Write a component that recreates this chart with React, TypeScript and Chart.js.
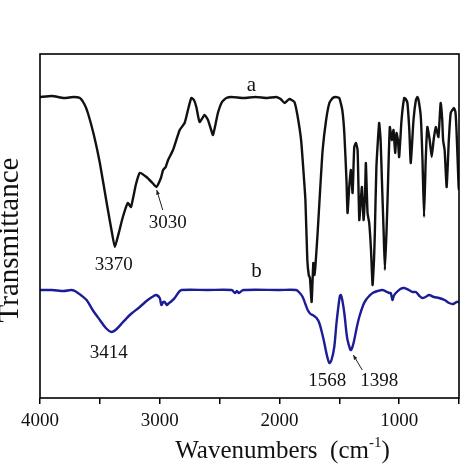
import React, { useEffect, useRef } from "react";
import { Chart, registerables } from "chart.js";

Chart.register(...registerables);

// Wavenumbers (cm-1) and relative transmittance for spectrum a (black)
const waveA = [4000,3900,3800,3720,3667,3630,3600,3550,3500,3440,3400,3375,3340,3308,3267,3240,3200,3167,3111,3060,3028,2990,2972,2950,2930,2889,2833,2792,2760,2736,2714,2694,2667,2625,2597,2570,2555,2535,2514,2480,2444,2400,2300,2200,2100,2028,1990,1958,1917,1875,1850,1819,1800,1783,1767,1755,1745,1731,1717,1708,1700,1681,1660,1639,1610,1583,1555,1528,1500,1475,1458,1440,1431,1417,1403,1389,1375,1361,1347,1333,1320,1311,1297,1285,1278,1264,1250,1235,1222,1210,1203,1190,1167,1155,1144,1130,1119,1105,1097,1078,1061,1047,1033,1022,1010,1000,980,958,945,931,915,903,880,860,847,835,819,805,792,778,764,745,728,712,694,672,660,653,640,633,620,603,585,569,542,530,522,510,503,500];
const transA = [301,302,300,301,300,294,285,263,235,193,166,151,166,181,195,191,213,225,221,215,211,220,228,231,238,248,268,275,290,300,298,291,276,283,278,268,263,273,285,296,300,301,300,301,300,301,299,295,299,296,283,258,228,198,138,123,120,96,135,123,131,165,208,248,278,295,300,301,300,288,265,218,185,211,228,205,251,255,248,178,198,211,178,203,235,185,175,148,113,138,165,231,275,258,218,168,128,168,198,271,258,268,245,265,258,241,278,300,299,295,268,235,278,298,301,296,281,238,181,238,271,258,241,258,271,261,283,295,278,258,248,211,258,285,290,286,271,233,211,208];

// Spectrum b (blue)
const waveB = [4000,3900,3800,3740,3708,3660,3611,3560,3500,3450,3403,3360,3306,3240,3167,3100,3050,3028,3000,2986,2970,2958,2940,2931,2900,2875,2840,2819,2600,2400,2370,2355,2340,2300,2000,1861,1830,1806,1780,1764,1740,1722,1690,1667,1640,1625,1600,1583,1565,1542,1525,1514,1495,1486,1475,1458,1440,1431,1410,1403,1390,1375,1355,1333,1300,1278,1250,1222,1180,1139,1100,1083,1070,1056,1045,1028,990,958,920,889,860,830,806,780,750,710,667,620,583,550,520,500];
const transB = [108,108,107,108,107,103,98,88,78,70,66,69,76,84,91,98,102,103,100,93,96,96,93,94,97,100,106,108,108,108,105,107,105,108,108,108,105,101,93,88,84,83,80,75,63,55,41,35,38,51,73,85,102,103,98,85,65,58,49,48,51,58,70,81,93,98,102,105,107,108,106,105,105,98,102,105,109,110,108,106,106,102,100,101,103,101,100,98,95,94,96,96];

// Peak labels (text, wavenumber, transmittance of the label baseline)
const labelTexts = ["a", "b", "3370", "3030", "3414", "1568", "1398"];
const labelWave = [2233, 2192, 3383, 2933, 3425, 1600, 1167];
const labelTrans = [307, 121, 128, 170, 40, 12, 12];

// Arrows (from label to peak) in data units
const arrowFromWave = [2975, 1308];
const arrowFromTrans = [188, 28];
const arrowToWave = [3025, 1383];
const arrowToTrans = [208, 43];

const xTicks = [4000, 3000, 2000, 1000];
const yTitle = "Transmittance";

const SERIF = "'Liberation Serif', 'Times New Roman', serif";

const framePlugin = {
  id: "frame",
  afterDraw(chart: any) {
    const { ctx, chartArea, scales } = chart;
    const xs = scales.x;
    const ys = scales.y;
    ctx.save();
    ctx.strokeStyle = "#000";
    ctx.lineWidth = 1.6;
    ctx.strokeRect(chartArea.left, chartArea.top, chartArea.right - chartArea.left, chartArea.bottom - chartArea.top);

    // peak labels
    ctx.fillStyle = "#111";
    ctx.textAlign = "center";
    ctx.textBaseline = "alphabetic";
    labelTexts.forEach((t, i) => {
      const big = t.length === 1;
      ctx.font = `${big ? 21 : 19}px ${SERIF}`;
      ctx.fillText(t, xs.getPixelForValue(labelWave[i]), ys.getPixelForValue(labelTrans[i]));
    });

    // arrows
    ctx.strokeStyle = "#222";
    ctx.fillStyle = "#222";
    ctx.lineWidth = 1;
    arrowFromWave.forEach((_, i) => {
      const x1 = xs.getPixelForValue(arrowFromWave[i]);
      const y1 = ys.getPixelForValue(arrowFromTrans[i]);
      const x2 = xs.getPixelForValue(arrowToWave[i]);
      const y2 = ys.getPixelForValue(arrowToTrans[i]);
      ctx.beginPath();
      ctx.moveTo(x1, y1);
      ctx.lineTo(x2, y2);
      ctx.stroke();
      const ang = Math.atan2(y2 - y1, x2 - x1);
      const L = 5;
      ctx.beginPath();
      ctx.moveTo(x2, y2);
      ctx.lineTo(x2 - L * Math.cos(ang - 0.4), y2 - L * Math.sin(ang - 0.4));
      ctx.lineTo(x2 - L * Math.cos(ang + 0.4), y2 - L * Math.sin(ang + 0.4));
      ctx.closePath();
      ctx.fill();
    });

    // y axis title (partly cut at the left edge, as in the original)
    ctx.save();
    ctx.fillStyle = "#111";
    ctx.font = `29px ${SERIF}`;
    ctx.textAlign = "center";
    ctx.textBaseline = "alphabetic";
    ctx.translate(18, (chartArea.top + chartArea.bottom) / 2 + 14);
    ctx.rotate(-Math.PI / 2);
    ctx.fillText(yTitle, 0, 0);
    ctx.restore();

    // x axis title with superscript
    const main = "Wavenumbers  (cm";
    const sup = "-1";
    const close = ")";
    ctx.fillStyle = "#111";
    ctx.textAlign = "left";
    ctx.font = `25px ${SERIF}`;
    const w1 = ctx.measureText(main).width;
    const w3 = ctx.measureText(close).width;
    ctx.font = `15px ${SERIF}`;
    const w2 = ctx.measureText(sup).width;
    const total = w1 + w2 + w3;
    const cx = (chartArea.left + chartArea.right) / 2 + 33;
    let x = cx - total / 2;
    const by = 458;
    ctx.font = `25px ${SERIF}`;
    ctx.fillText(main, x, by);
    x += w1;
    ctx.font = `15px ${SERIF}`;
    ctx.fillText(sup, x, by - 11);
    x += w2;
    ctx.font = `25px ${SERIF}`;
    ctx.fillText(close, x, by);
    ctx.restore();
  },
};

export default function App() {
  const ref = useRef<HTMLCanvasElement | null>(null);
  useEffect(() => {
    if (!ref.current) return;
    const chart = new Chart(ref.current, {
      type: "line",
      data: {
        datasets: [
          {
            label: "a",
            data: waveA.map((w, i) => ({ x: w, y: transA[i] })),
            borderColor: "#111111",
            borderWidth: 2.4,
            pointRadius: 0,
            tension: 0.15,
          },
          {
            label: "b",
            data: waveB.map((w, i) => ({ x: w, y: transB[i] })),
            borderColor: "#1c1c96",
            borderWidth: 2.4,
            pointRadius: 0,
            tension: 0.3,
          },
        ],
      },
      options: {
        responsive: false,
        animation: false,
        layout: { padding: { left: 0, right: 15, top: 54, bottom: 0 } },
        plugins: { legend: { display: false }, tooltip: { enabled: false } },
        scales: {
          x: {
            type: "linear",
            reverse: true,
            min: 500,
            max: 4000,
            afterFit: (s: any) => {
              s.height = 76;
            },
            border: { display: false },
            grid: { drawOnChartArea: false, drawTicks: true, tickLength: 6, color: "#000", lineWidth: 1.5 },
            ticks: {
              stepSize: 500,
              autoSkip: false,
              maxRotation: 0,
              padding: 6,
              color: "#111",
              font: { family: SERIF, size: 19 },
              callback: (v: any) => (xTicks.includes(Number(v)) ? String(v) : ""),
            },
          },
          y: {
            min: 0,
            max: 344,
            afterFit: (s: any) => {
              s.width = 40;
            },
            border: { display: false },
            grid: { display: false },
            ticks: { display: false },
            title: { display: false },
          },
        },
      },
      plugins: [framePlugin],
    });
    return () => chart.destroy();
  }, []);
  return (
    <div style={{ position: "fixed", left: 0, top: 0, width: 474, height: 474, background: "#fff" }}>
      <canvas ref={ref} width={474} height={474} />
    </div>
  );
}
